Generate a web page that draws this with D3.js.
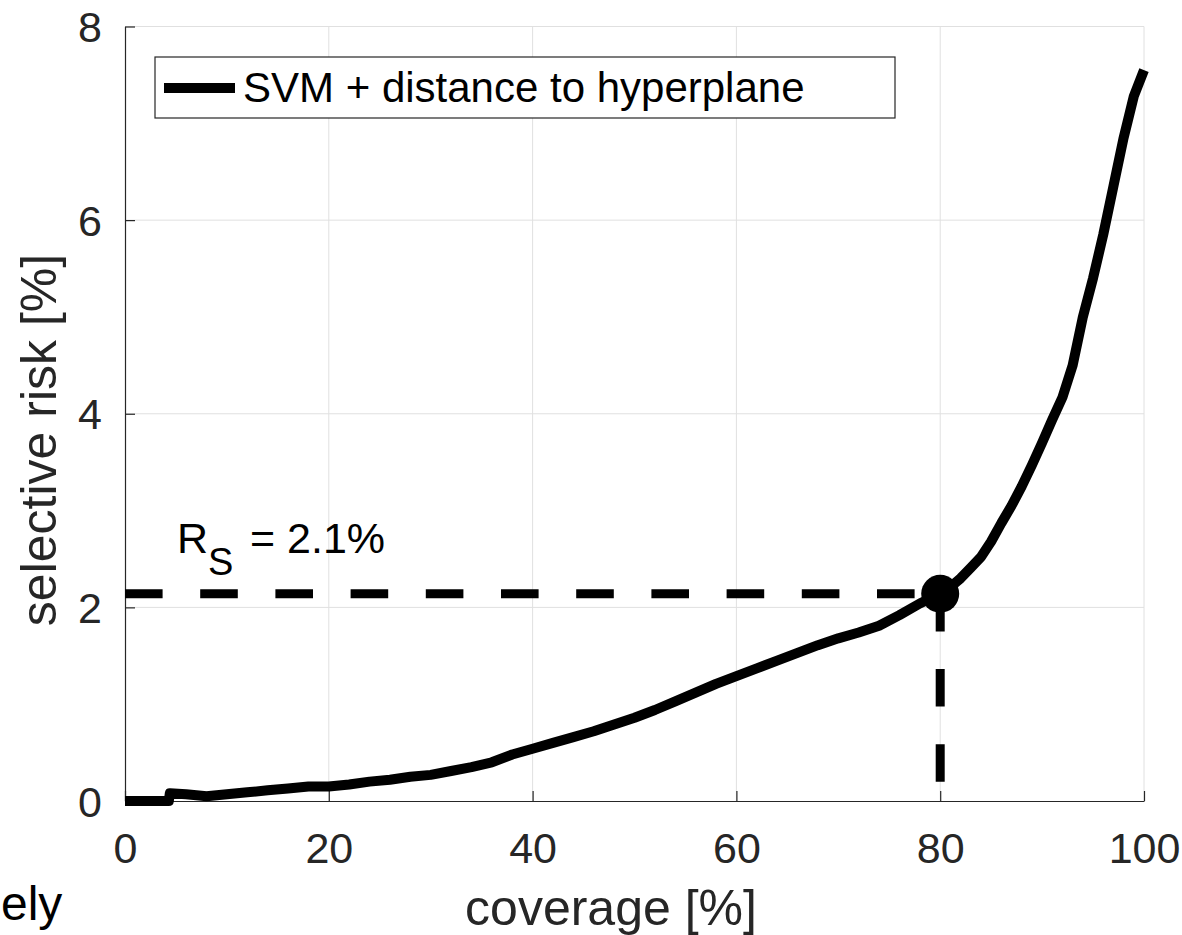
<!DOCTYPE html>
<html>
<head>
<meta charset="utf-8">
<script src="https://cdn.jsdelivr.net/npm/d3@7"></script>
<style>
  html, body { margin: 0; padding: 0; background: #fff; }
  svg { display: block; }
  text { font-family: "Liberation Sans", Arial, Helvetica, sans-serif; }
</style>
</head>
<body>
<svg id="chart" width="1182" height="935"></svg>
<script>
// ---- data ----
const coverage = [0, 4.3, 4.4, 6, 8, 10, 12, 14, 16, 18, 20, 22, 24, 26, 28, 30, 32, 34, 36, 38, 40,
  42, 44, 46, 48, 50, 52, 54, 56, 58, 60, 62, 64, 66, 68, 70, 72, 74, 76, 78, 80,
  81, 82, 83, 84, 85, 86, 87, 88, 89, 90, 91, 92, 93, 94, 95, 96, 97, 98, 99, 100];
const risk = [0, 0, 0.08, 0.07, 0.05, 0.07, 0.09, 0.11, 0.13, 0.15, 0.15, 0.17, 0.2, 0.22, 0.25, 0.27, 0.31, 0.35, 0.4, 0.48, 0.54,
  0.6, 0.66, 0.72, 0.79, 0.86, 0.94, 1.03, 1.12, 1.21, 1.29, 1.37, 1.45, 1.53, 1.61, 1.68, 1.74, 1.81, 1.92, 2.04, 2.14,
  2.21, 2.3, 2.41, 2.52, 2.68, 2.87, 3.05, 3.25, 3.47, 3.7, 3.94, 4.17, 4.5, 5.0, 5.4, 5.85, 6.35, 6.85, 7.28, 7.55];
const xTicks = [0, 20, 40, 60, 80, 100];
const yTicks = [0, 2, 4, 6, 8];
const seriesName = "SVM + distance to hyperplane";
const opCoverage = 80;
const opRisk = 2.14;
const opLabel = "2.1%";
const xLabel = "coverage [%]";
const yLabel = "selective risk [%]";
const strayText = "ely";

// ---- layout ----
const svg = d3.select("#chart");
const x = d3.scaleLinear().domain([0, 100]).range([125, 1144]);
const y = d3.scaleLinear().domain([0, 8]).range([801, 26.5]);
const axisColor = "#262626";
const gridColor = "#e0e0e0";

// grid
const grid = svg.append("g");
grid.selectAll("line.vx").data(xTicks.filter(d => d > 0)).join("line")
  .attr("x1", d => x(d)).attr("x2", d => x(d))
  .attr("y1", y(0)).attr("y2", y(8))
  .attr("stroke", gridColor).attr("stroke-width", 1);
grid.selectAll("line.hy").data(yTicks.filter(d => d > 0)).join("line")
  .attr("y1", d => y(d)).attr("y2", d => y(d))
  .attr("x1", x(0)).attr("x2", x(100))
  .attr("stroke", gridColor).attr("stroke-width", 1);

// axes
const xAxis = d3.axisBottom(x).tickValues(xTicks).tickSizeInner(-10).tickSizeOuter(0).tickPadding(20);
const yAxis = d3.axisLeft(y).tickValues(yTicks).tickSizeInner(-10).tickSizeOuter(0).tickPadding(22);
const gx = svg.append("g").attr("transform", `translate(0,${y(0)})`).call(xAxis);
const gy = svg.append("g").attr("transform", `translate(${x(0)},0)`).call(yAxis);
[gx, gy].forEach(g => {
  g.select(".domain").attr("stroke", axisColor).attr("stroke-width", 1.2);
  g.selectAll(".tick line").attr("stroke", axisColor).attr("stroke-width", 1.2);
  g.selectAll(".tick text").attr("fill", axisColor)
    .style("font-family", '"Liberation Sans", Arial, sans-serif').style("font-size", "43px");
});
gx.selectAll(".tick text").attr("dy", "0.71em").attr("y", 31);
gy.selectAll(".tick text").attr("x", -23).attr("dy", "0.35em");

// curve
const pts = coverage.map((c, i) => [c, risk[i]]);
const line = d3.line().x(d => x(d[0])).y(d => y(d[1]));
svg.append("path").datum(pts)
  .attr("d", line)
  .attr("fill", "none").attr("stroke", "#000").attr("stroke-width", 10)
  .attr("stroke-linejoin", "round").attr("stroke-linecap", "butt");

// operating point dashed lines
svg.append("line")
  .attr("x1", x(0)).attr("x2", x(opCoverage))
  .attr("y1", y(opRisk)).attr("y2", y(opRisk))
  .attr("stroke", "#000").attr("stroke-width", 9).attr("stroke-dasharray", "37.6,37.6");
svg.append("line")
  .attr("x1", x(opCoverage)).attr("x2", x(opCoverage))
  .attr("y1", y(opRisk)).attr("y2", y(0))
  .attr("stroke", "#000").attr("stroke-width", 9).attr("stroke-dasharray", "37.6,37.6");
svg.append("circle")
  .attr("cx", x(opCoverage)).attr("cy", y(opRisk)).attr("r", 19).attr("fill", "#000");

// R_S label
const rs = svg.append("text").attr("x", 177).attr("y", 553).attr("fill", "#000").style("font-size", "43px");
rs.append("tspan").text("R");
rs.append("tspan").attr("dy", 22).style("font-size", "38px").text("S");
rs.append("tspan").attr("dy", -22).attr("x", 250).text("= " + opLabel);

// legend
const lg = svg.append("g");
lg.append("rect").attr("x", 155).attr("y", 57).attr("width", 740).attr("height", 61)
  .attr("fill", "#fff").attr("stroke", axisColor).attr("stroke-width", 1.2);
lg.append("line").attr("x1", 164).attr("x2", 235).attr("y1", 88).attr("y2", 88)
  .attr("stroke", "#000").attr("stroke-width", 10);
lg.append("text").attr("x", 243).attr("y", 102).attr("fill", "#000").style("font-size", "42px").text(seriesName);

// axis labels
svg.append("text").attr("x", 611).attr("y", 925).attr("text-anchor", "middle")
  .attr("fill", axisColor).style("font-size", "50px").text(xLabel);
svg.append("text").attr("transform", "translate(56,440) rotate(-90)").attr("text-anchor", "middle")
  .attr("fill", axisColor).style("font-size", "50px").text(yLabel);

// stray cropped text from the source page
svg.append("text").attr("x", 1).attr("y", 920).attr("text-anchor", "start")
  .attr("fill", "#000").style("font-size", "48px").text(strayText);
</script>
</body>
</html>
